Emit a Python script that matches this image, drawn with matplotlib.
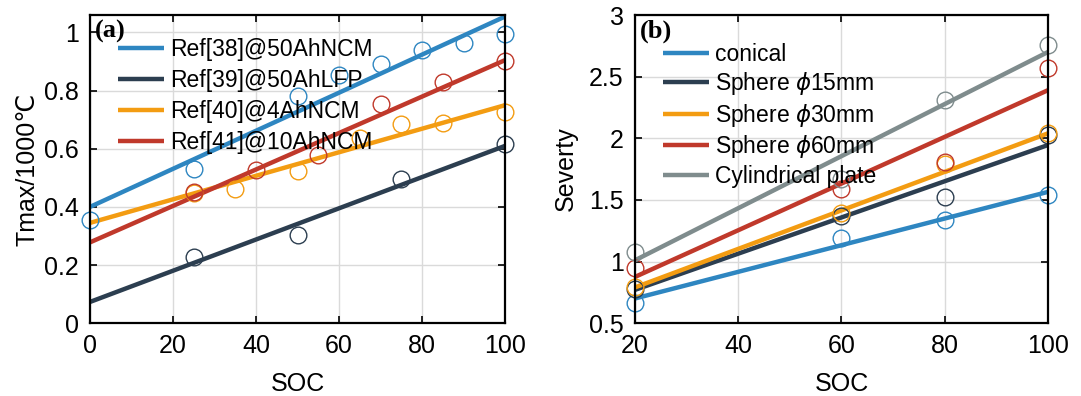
import matplotlib
matplotlib.use("Agg")
import matplotlib.pyplot as plt
import numpy as np

# panel (a) data
soc_a = {
    "Ref[38]@50AhNCM": [0, 25, 50, 60, 70, 80, 90, 100],
    "Ref[39]@50AhLFP": [25, 50, 75, 100],
    "Ref[40]@4AhNCM": [25, 35, 50, 65, 75, 85, 100],
    "Ref[41]@10AhNCM": [25, 40, 55, 70, 85, 100],
}
tmax_a = {
    "Ref[38]@50AhNCM": [0.355, 0.53, 0.78, 0.855, 0.893, 0.94, 0.965, 0.995],
    "Ref[39]@50AhLFP": [0.228, 0.303, 0.495, 0.617],
    "Ref[40]@4AhNCM": [0.448, 0.462, 0.525, 0.637, 0.685, 0.69, 0.725],
    "Ref[41]@10AhNCM": [0.45, 0.527, 0.58, 0.753, 0.83, 0.903],
}
fit_x_a = [0, 100]
fit_a = {
    "Ref[38]@50AhNCM": [0.40, 1.055],
    "Ref[39]@50AhLFP": [0.073, 0.61],
    "Ref[40]@4AhNCM": [0.345, 0.75],
    "Ref[41]@10AhNCM": [0.278, 0.905],
}

# panel (b) data
soc_b = [20, 60, 80, 100]
sev_b = {
    "conical": [0.662, 1.19, 1.34, 1.54],
    "Sphere $\\phi$15mm": [0.78, 1.37, 1.52, 2.03],
    "Sphere $\\phi$30mm": [0.79, 1.39, 1.79, 2.04],
    "Sphere $\\phi$60mm": [0.945, 1.59, 1.81, 2.57],
    "Cylindrical plate": [1.08, 1.67, 2.31, 2.76],
}
fit_x_b = [20, 100]
fit_b = {
    "conical": [0.70, 1.565],
    "Sphere $\\phi$15mm": [0.77, 1.945],
    "Sphere $\\phi$30mm": [0.79, 2.04],
    "Sphere $\\phi$60mm": [0.875, 2.39],
    "Cylindrical plate": [1.01, 2.70],
}

colors = ["#2E86C1", "#2C3E50", "#F39C12", "#C0392B", "#7F8C8D"]

plt.rcParams['font.family'] = ['Liberation Sans', 'DejaVu Sans']
plt.rcParams['mathtext.fontset'] = 'dejavusans'

fig = plt.figure(figsize=(10.81, 3.96), dpi=100)
ax1 = fig.add_axes([0.0833, 0.184, 0.384, 0.778])
ax2 = fig.add_axes([0.5874, 0.184, 0.382, 0.778])

TICK = 18


def style(ax):
    ax.grid(True, color="#dadada", linewidth=1.0)
    ax.set_axisbelow(True)
    for s in ax.spines.values():
        s.set_linewidth(1.6)
    ax.tick_params(direction="in", top=True, right=True, length=5, width=1.2, pad=8,
                   labelsize=TICK)


for i, k in enumerate(soc_a):
    ax1.plot(fit_x_a, fit_a[k], color=colors[i], lw=3.2, label=k, solid_capstyle="butt")
for i, k in enumerate(soc_a):
    ax1.plot(soc_a[k], tmax_a[k], "o", mfc="none", mec=colors[i], ms=12, mew=1.0, clip_on=False)
ax1.set_xlim(0, 100)
ax1.set_ylim(0, 1.06)
ax1.set_xticks(np.arange(0, 101, 20))
ax1.set_yticks(np.arange(0, 1.01, 0.2))
ax1.set_yticklabels(["0", "0.2", "0.4", "0.6", "0.8", "1"])
style(ax1)
ax1.set_xlabel("SOC", fontsize=18, labelpad=10)
ax1.set_ylabel("Tmax/1000℃", fontsize=18, labelpad=3)
ax1.legend(loc="upper left", frameon=False, fontsize=16.5, handlelength=2.0, handletextpad=0.3,
           labelspacing=0.35, borderaxespad=0.0, bbox_to_anchor=(0.045, 0.955))
ax1.text(0.012, 0.985, "(a)", transform=ax1.transAxes, ha="left", va="top",
         fontsize=19, fontweight="bold", family="Liberation Serif")

for i, k in enumerate(sev_b):
    ax2.plot(fit_x_b, fit_b[k], color=colors[i], lw=3.2, label=k, solid_capstyle="butt")
for i, k in enumerate(sev_b):
    ax2.plot(soc_b, sev_b[k], "o", mfc="none", mec=colors[i], ms=12, mew=1.0, clip_on=False)
ax2.set_xlim(20, 100)
ax2.set_ylim(0.5, 3)
ax2.set_xticks(np.arange(20, 101, 20))
ax2.set_yticks(np.arange(0.5, 3.01, 0.5))
ax2.set_yticklabels(["0.5", "1", "1.5", "2", "2.5", "3"])
style(ax2)
ax2.set_xlabel("SOC", fontsize=18, labelpad=10)
ax2.set_ylabel("Severty", fontsize=18, labelpad=8)
ax2.legend(loc="upper left", frameon=False, fontsize=16.5, handlelength=2.0, handletextpad=0.3,
           labelspacing=0.2, borderaxespad=0.0, bbox_to_anchor=(0.045, 0.94))
ax2.text(0.012, 0.985, "(b)", transform=ax2.transAxes, ha="left", va="top",
         fontsize=19, fontweight="bold", family="Liberation Serif")

fig.savefig("out.png", dpi=100)
